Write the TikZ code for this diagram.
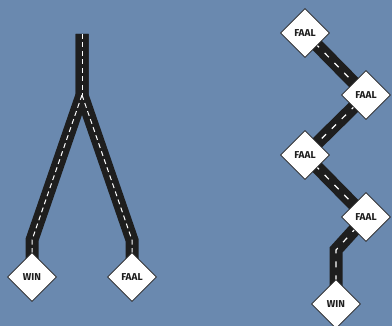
\documentclass[tikz,border=0pt]{standalone}
\usepackage{fontspec}
\setmainfont{Fira Sans}
\usetikzlibrary{shapes.geometric,backgrounds}
\definecolor{sky}{RGB}{106,137,175}
\definecolor{asphalt}{RGB}{30,30,30}
\tikzset{
  goal/.style={diamond, draw=asphalt, line width=0.7pt, fill=white, minimum width=49pt, minimum height=49pt, inner sep=0pt, font=\fontsize{10}{10}\selectfont\bfseries, text=asphalt},
  roadbase/.style={draw=asphalt, line width=13pt, line join=miter},
  roadline/.style={draw=white, line width=1pt, dash pattern=on 5pt off 3.5pt},
  zigline/.style={draw=white, line width=1.2pt, dash pattern=on 6pt off 8pt}
}
\begin{document}
\begin{tikzpicture}[x=1pt, y=-1pt]
  \useasboundingbox (0,0) rectangle (392,326);
  \coordinate (top) at (82,34);
  \coordinate (fork) at (82,95);
  \coordinate (lbend) at (32,240);
  \coordinate (rbend) at (132,240);
  \coordinate (zbend) at (336,250);
  \node[goal] (win) at (32,277) {WIN};
  \node[goal] (faal) at (132,277) {FAAL};
  \node[goal] (faal1) at (305,33) {FAAL};
  \node[goal] (faal2) at (366,95) {FAAL};
  \node[goal] (faal3) at (305,155) {FAAL};
  \node[goal] (faal4) at (366,217) {FAAL};
  \node[goal] (win2) at (336,304) {WIN};
  \begin{pgfonlayer}{background}
    \fill[sky] (0,0) rectangle (392,326);
    \draw[roadbase] (top) -- (fork) -- (lbend) -- (win.center);
    \draw[roadbase] (top) -- (fork) -- (rbend) -- (faal.center);
    \draw[roadbase] (faal1.center) -- (faal2.center) -- (faal3.center) -- (faal4.center) -- (zbend) -- (win2.center);
    \draw[roadline] (top) -- (fork);
    \draw[roadline] (fork) -- (lbend) -- (win.center);
    \draw[roadline] (fork) -- (rbend) -- (faal.center);
    \draw[zigline] (faal1.center) -- (faal2.center);
    \draw[zigline] (faal2.center) -- (faal3.center);
    \draw[zigline] (faal3.center) -- (faal4.center);
    \draw[zigline] (faal4.center) -- (zbend) -- (win2.center);
  \end{pgfonlayer}
\end{tikzpicture}
\end{document}
